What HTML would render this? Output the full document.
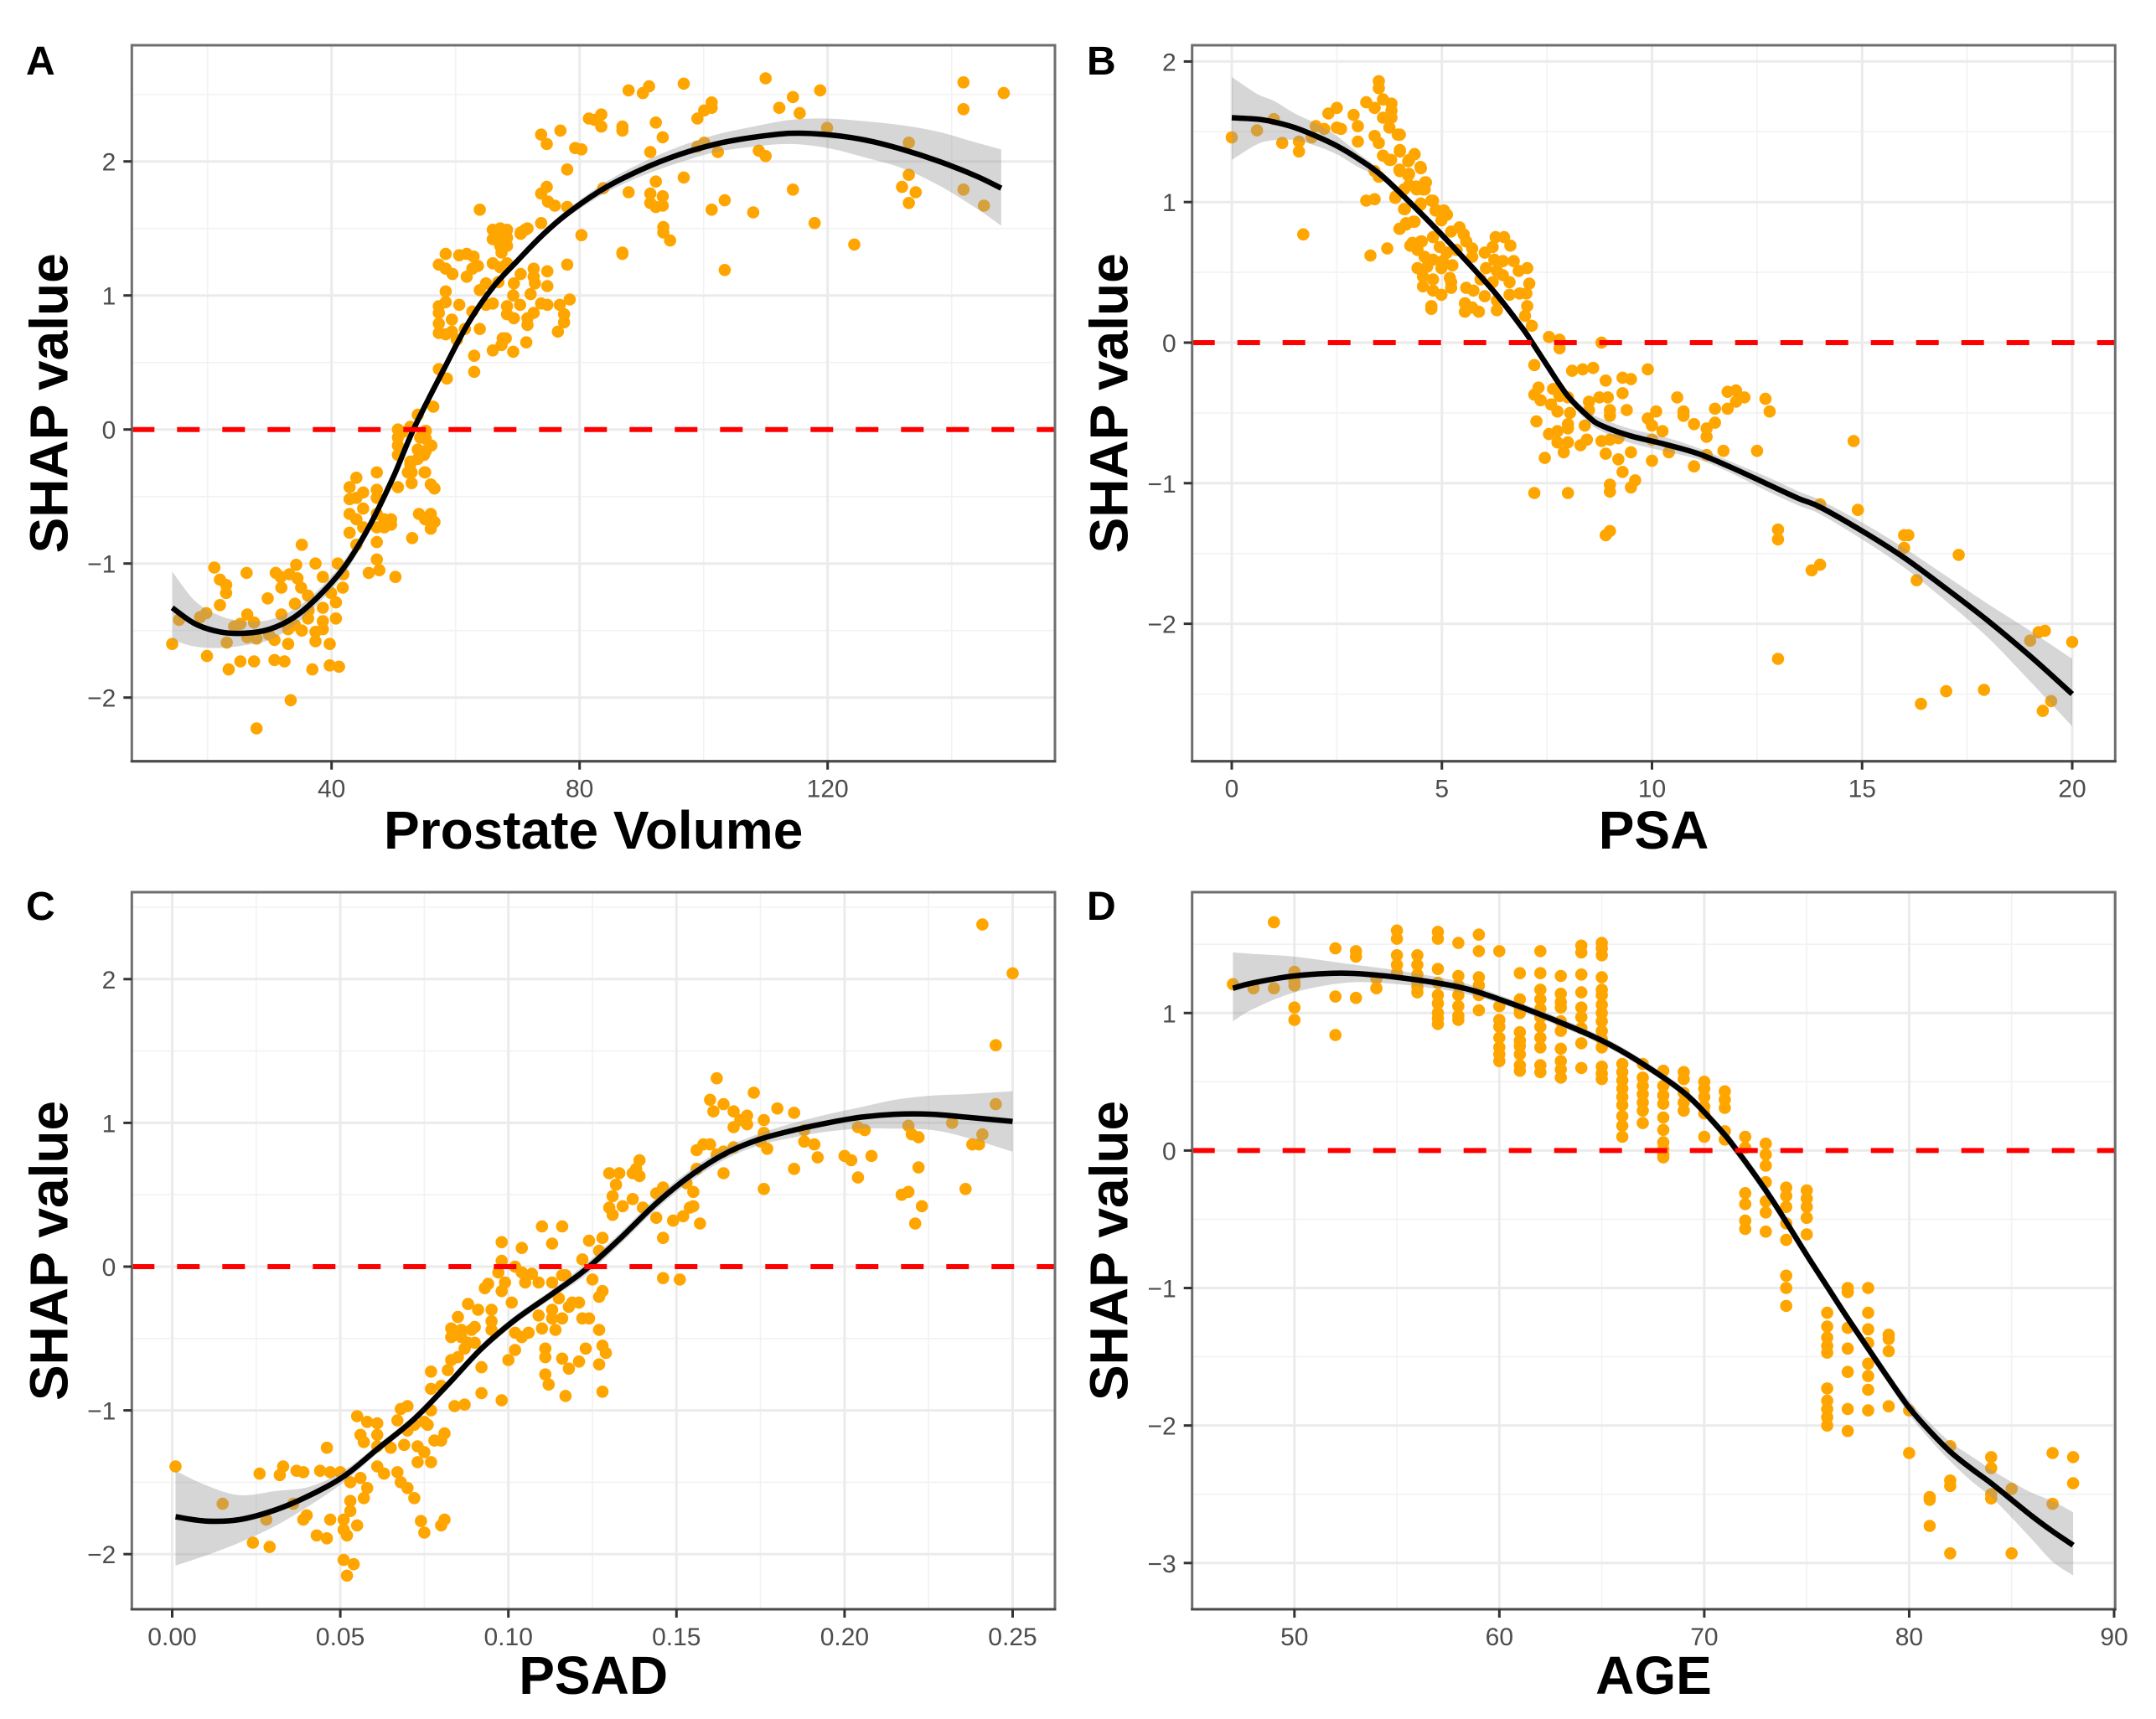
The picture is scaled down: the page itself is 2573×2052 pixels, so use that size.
<!DOCTYPE html>
<html lang="en">
<head>
<meta charset="utf-8">
<title>SHAP dependence plots</title>
<style>
html,body{margin:0;padding:0;background:#fff;}
svg{display:block;}
text{font-family:"Liberation Sans",Arial,sans-serif;}
</style>
</head>
<body>
<svg id="figure" xmlns="http://www.w3.org/2000/svg" width="2573" height="2052" viewBox="0 0 2573 2052"></svg>
<script>
// ---------- Panel A: Prostate Volume ----------
const volumeXTicks=[40,80,120];
const volumeXMinor=[20,60,100,140];
const volumeYTicks=[2,1,0,-1,-2];
const volumeYMinor=[2.5,1.5,0.5,-0.5,-1.5];
const volumeXLabels=['40','80','120'];
const volumeYLabels=['2','1','0','\u22121','\u22122'];
const volumeFitX=[14.3,18,22,26,30,34,38,42,46,50,53.2,58,62,66,70,74,78,84,90,96,102,108,114,120,126,132,138,144,148];
const volumeFitY=[-1.33,-1.45,-1.51,-1.52,-1.49,-1.40,-1.24,-1.03,-.73,-.35,0,.44,.79,1.06,1.26,1.45,1.61,1.80,1.94,2.05,2.13,2.18,2.21,2.20,2.16,2.09,2.0,1.89,1.80];
const volumeFitHigh=[-1.06,-1.28,-1.39,-1.43,-1.42,-1.34,-1.19,-.98,-.69,-.31,.03,.47,.82,1.09,1.29,1.48,1.64,1.84,1.99,2.11,2.2,2.26,2.31,2.32,2.30,2.27,2.22,2.14,2.09];
const volumeFitLow=[-1.57,-1.62,-1.63,-1.61,-1.57,-1.46,-1.29,-1.08,-.77,-.39,-.03,.41,.76,1.03,1.23,1.42,1.58,1.76,1.89,1.99,2.07,2.11,2.13,2.10,2.03,1.95,1.82,1.65,1.52];
const volumePoints=[[148.4,2.51],[141.9,2.59],[141.9,2.39],[141.9,1.79],[145.2,1.67],[133.1,2.14],[133.1,1.90],[134.2,1.77],[132,1.81],[133.1,1.69],[124.3,1.38],[117.9,1.54],[114.4,1.79],[114.4,2.48],[112.2,2.40],[115.5,2.36],[118.8,2.53],[119.9,2.25],[110,2.62],[108.9,2.08],[110,2.04],[108,1.62],[103.4,1.71],[101.3,1.64],[103.4,1.19],[102.3,2.07],[101.3,2.44],[101.3,2.40],[100.1,2.38],[99,2.32],[100.1,2.14],[99,2.11],[96.8,2.58],[96.8,1.88],[93.4,2.18],[92.3,2.29],[91.2,2.56],[90.2,2.51],[87.9,2.53],[91.4,2.07],[92.3,1.85],[91.4,1.76],[91.4,1.69],[93.4,1.74],[92.3,1.66],[93.4,1.67],[87.9,1.77],[93.5,1.51],[93.5,1.47],[94.6,1.41],[86.9,1.31],[86.9,2.26],[86.9,2.23],[83.5,2.35],[83.5,2.26],[81.5,2.32],[82.4,2.31],[79.3,2.10],[80.3,2.09],[76.9,2.23],[73.8,2.20],[74.7,2.13],[78,1.94],[83.8,1.80],[74.7,1.81],[73.8,1.76],[74.9,1.70],[76,1.67],[78,1.66],[80.3,1.45],[73.8,1.54],[63.9,1.64],[78,1.23],[71.6,1.50],[70.5,1.47],
[66.0,1.49],[67.2,1.50],[68.3,1.49],[66.0,1.42],[67.2,1.45],[68.3,1.43],[67.2,1.37],[68.3,1.37],[67.4,1.32],[66,1.24],[67.2,1.21],[68.3,1.24],[70.5,1.46],[71.2,1.49],[86.9,1.32],
[58.4,1.31],[57.3,1.23],[58.4,1.20],[59.5,1.16],[60.6,1.30],[61.8,1.31],[62.9,1.29],[63.6,1.22],[62.7,1.20],[61.8,1.14],[58.4,1.03],[57.3,.92],[58.4,.95],[57.3,.87],[57.3,.79],[57.3,.72],[58.4,.71],[59.4,.82],[60.6,.93],[59.4,.73],[60.2,.67],[62.7,.88],[61.5,.75],[63.9,.75],[64.9,1.09],[63.9,1.04],[66,.94],[64.9,.93],[67.6,.68],[68.1,.68],[66,.59],[67.4,.63],[69.3,.58],[71.4,.65],[63,.55],[63,.43],[57.3,.45],[58.6,.38],[66.9,1.10],[69.4,1.09],[70.5,1.16],[72.6,1.20],[72.6,1.14],[72.8,1.09],[74.8,1.18],[74.8,1.07],[72.1,1.01],[69.3,1.0],[68.3,.92],[70.4,.93],[68.3,.86],[69.4,.83],[71.6,.83],[71.6,.78],[72.6,.87],[73.8,.94],[74.8,.93],[76.8,.93],[78.4,.97],[77.5,.86],[77.5,.80],[76.5,.73],[56.4,.17],[53.9,.11],
[50.7,.0],[50.7,-.06],[50.7,-.12],[50.7,-.19],[51.4,-.02],[52.7,.02],[55.2,-.01],[55.2,-.07],[54.3,-.06],[56.1,-.12],[55.2,-.16],[53.9,-.15],[53.9,-.22],[52.7,-.26],[52.3,-.32],[55,-.32],
[52.7,-.24],[52.9,-.32],[52.9,-.40],[55.1,-.32],[56,-.41],[56.6,-.44],[54.9,-.19],[47.3,-.32],[44,-.36],[42.9,-.43],[42.9,-.52],[44,-.51],[45.1,-.47],[45.1,-.59],[47.3,-.45],[47.3,-.51],[50.7,-.43],[42.9,-.63],[44,-.67],[42.9,-.77],[45.1,-.73],[47.3,-.63],[48.5,-.67],[49.6,-.67],[47.3,-.73],[48.5,-.73],[49.6,-.71],[54.1,-.63],[56,-.63],[56.6,-.69],[55.1,-.67],[56,-.74],[53,-.81],[44,-.86],[47.3,-.84],[47.3,-.97],[46,-1.07],[47.7,-1.05],[50.3,-1.10],
[35.2,-.86],[37.4,-1.0],[34.3,-1.01],[31,-1.07],[31.8,-1.10],[33.2,-1.08],[34.5,-1.11],[26.3,-1.07],[21.1,-1.03],[22,-1.12],[23,-1.16],[23,-1.22],[22,-1.31],[29.7,-1.26],[31.9,-1.18],[35.1,-1.18],[36.2,-1.24],[34.1,-1.30],[38.6,-1.10],[41,-1.0],[41.9,-1.08],[41.8,-1.18],[39.9,-1.22],[40.7,-1.29],[40.7,-1.41],[38.6,-1.33],[36.3,-1.35],[36.2,-1.41],[38.6,-1.43],[37.4,-1.51],[38.6,-1.49],[39.7,-1.60],[37.4,-1.58],[35.2,-1.50],[34.1,-1.46],[31.9,-1.38],[33,-1.49],[33,-1.60],[30.8,-1.57],[30.8,-1.72],[32.4,-1.73],[36.9,-1.79],[39.7,-1.76],[41.2,-1.77],[27.5,-1.73],[25.3,-1.73],[23.4,-1.79],[19.9,-1.69],[23.1,-1.59],[14.3,-1.60],[15.4,-1.42],[18.8,-1.40],[19.8,-1.37],[26.4,-1.38],[24.3,-1.47],[25.3,-1.45],[27.5,-1.44],[26.4,-1.55],[27.9,-1.56],[29.9,-1.53],[33.4,-2.02],[27.9,-2.23]];

// ---------- Panel B: PSA ----------
const psaXTicks=[0,5,10,15,20];
const psaXMinor=[2.5,7.5,12.5,17.5];
const psaYTicks=[2,1,0,-1,-2];
const psaYMinor=[1.5,0.5,-0.5,-1.5,-2.5];
const psaXLabels=['0','5','10','15','20'];
const psaYLabels=['2','1','0','\u22121','\u22122'];
const psaFitX=[0,.6,1,1.5,2,2.5,3,3.6,4.6,5.4,6.25,6.9,7.15,7.5,8,8.5,8.8,9.45,10.27,11.1,11.9,12.7,13.5,14,15,16,17,18,19,20];
const psaFitY=[1.6,1.59,1.57,1.53,1.47,1.40,1.31,1.18,.89,.64,.36,.11,0,-.16,-.38,-.53,-.59,-.66,-.72,-.79,-.89,-1.0,-1.11,-1.17,-1.34,-1.53,-1.75,-1.98,-2.23,-2.5];
const psaFitHigh=[1.89,1.77,1.72,1.63,1.56,1.47,1.35,1.21,.92,.67,.39,.14,.03,-.13,-.35,-.49,-.54,-.61,-.67,-.75,-.85,-.95,-1.06,-1.12,-1.28,-1.46,-1.66,-1.86,-2.05,-2.25];
const psaFitLow=[1.30,1.41,1.44,1.44,1.40,1.34,1.25,1.15,.86,.61,.33,.08,-.03,-.19,-.41,-.57,-.63,-.71,-.77,-.83,-.93,-1.05,-1.16,-1.22,-1.40,-1.60,-1.84,-2.10,-2.41,-2.73];
const psaPoints=[[0,1.46],[.6,1.51],[1,1.59],[1.2,1.42],[1.6,1.43],[1.6,1.36],[1.7,.77],[2,1.54],[1.9,1.46],[2.2,1.52],[2.3,1.63],[2.5,1.67],[2.5,1.53],[2.6,1.52],[2.9,1.62],[3,1.54],[3,1.43],[3.2,1.71],[3.4,1.67],[3.2,1.01],[3.4,1.02],[3.3,.62],[3.7,.67],
[3.5,1.86],[3.5,1.81],[3.6,1.73],[3.8,1.70],[3.8,1.65],[3.6,1.6],[3.8,1.6],[3.75,1.53],[4,1.48],[3.4,1.47],[3.5,1.42],[3.6,1.33],[3.75,1.3],[4,1.36],[4,1.22],[4.2,1.29],[4.35,1.34],[4.5,1.24],[3.4,1.22],[3.5,1.18],[4.2,1.19],[4.6,1.14],[3.9,1.04],[4.1,1.09],[4.4,1.09],[4.55,1.09],[4.1,.95],[4.75,1.01],[4.5,.99],[4.85,.94],[5.05,.94],[4,.81],[4.15,.85],[4.35,.86],[4.3,.71],[4.5,.72],
[3.95,1.48],[4.0,1.37],[4.35,1.34],[4.22,1.30],[4.49,1.25],[3.79,1.30],[3.99,1.23],[4.22,1.20],[4.62,1.14],[4.22,1.12],[4.39,1.11],[4.59,1.09],[3.89,1.03],[4.49,.98],[4.79,1.01],[4.12,.95],[4.89,.94],[5.12,.91],[4.99,.87],[4.32,.86],[4.15,.84],[3.99,.81],[5.42,.82],[5.22,.79],[5.52,.77],[4.79,.75],[5.58,.72],[5.72,.67],[4.25,.69],[4.52,.72],[4.42,.66],[4.59,.61],[4.95,.68],[5.12,.64],[5.35,.66],[5.72,.61],[4.79,.59],[5.02,.58],[5.25,.55],[4.42,.53],[4.65,.54],[4.99,.53],[4.55,.47],[4.79,.45],[5.19,.46],[4.55,.40],[4.79,.37],[4.99,.34],[5.22,.39],[5.22,.43],[4.75,.24],[4.75,.26],[5.58,.39],[5.75,.37],[5.55,.28],[5.55,.22],[5.88,.22],[5.72,.25],[6.02,.64],[6.21,.68],[6.28,.75],[6.48,.75],[6.63,.69],[6.25,.59],[6.45,.58],[6.71,.58],[6.05,.53],[6.31,.51],[6.45,.48],[6.83,.51],[7.03,.53],[5.92,.45],[6.21,.43],[6.61,.43],[7.08,.42],[6.02,.33],[6.31,.30],[6.61,.34],[6.85,.35],[7.01,.35],[6.31,.23],[7.03,.26],[6.98,.19],[7.14,.12],
[7.55,.04],[7.8,.02],[7.8,-.04],[8.8,0],[7.2,-.16],[8.1,-.2],[8.35,-.19],[8.6,-.18],[9.9,-.19],[9.3,-.25],[9.5,-.26],[8.9,-.27],[9.3,-.36],[8.95,-.39],[8.75,-.39],[7.2,-.37],[7.3,-.32],[7.65,-.33],[7.8,-.38],[8,-.39],[8.5,-.42],[7.6,-.44],[7.35,-.41],[7.75,-.49],[8.05,-.5],[8.5,-.48],[9,-.48],[9,-.52],[9.4,-.48],[7.25,-.56],[8,-.58],[8.4,-.59],[7.55,-.65],[7.75,-.63],[8,-.61],[8.8,-.7],[9,-.69],[9.2,-.68],[8,-.71],[7.75,-.71],[8.3,-.73],[8.45,-.69],[7.9,-.78],[7.45,-.82],[8.9,-.79],[9.5,-.78],[9.2,-.83],[9.3,-.92],[9.6,-.98],[9.5,-1.03],[9,-1.01],[9,-1.06],[8,-1.07],[7.2,-1.07],[8.9,-1.37],[9,-1.34],
[10.6,-.39],[10.1,-.49],[9.9,-.54],[10,-.59],[10.25,-.63],[10.75,-.49],[10.75,-.52],[11,-.58],[11.3,-.61],[11.3,-.67],[11.5,-.57],[11.5,-.47],[11.8,-.35],[12,-.34],[12.2,-.39],[12,-.42],[11.8,-.47],[12.7,-.4],[12.8,-.49],[12.5,-.77],[11.7,-.77],[11.3,-.8],[11,-.88],[10.4,-.78],[10,-.84],[10,-.69],
[14.8,-.7],[14,-1.15],[14.9,-1.19],[13,-1.33],[13,-1.40],[13,-2.25],[14,-1.58],[13.8,-1.62],[16,-1.37],[16.1,-1.37],[16,-1.46],[17.3,-1.51],[16.3,-1.69],[19,-2.12],[19.2,-2.06],[19.35,-2.05],[20,-2.13],[16.4,-2.57],[17,-2.48],[17.9,-2.47],[19.5,-2.55],[19.3,-2.62]];

// ---------- Panel C: PSAD ----------
const psadXTicks=[0,.05,.10,.15,.20,.25];
const psadXMinor=[.025,.075,.125,.175,.225];
const psadYTicks=[2,1,0,-1,-2];
const psadYMinor=[2.5,1.5,0.5,-0.5,-1.5];
const psadXLabels=['0.00','0.05','0.10','0.15','0.20','0.25'];
const psadYLabels=['2','1','0','\u22121','\u22122'];
const psadFitX=[.001,.01,.02,.031,.041,.051,.061,.072,.082,.092,.102,.113,.123,.133,.144,.154,.164,.174,.185,.195,.205,.215,.226,.236,.25];
const psadFitY=[-1.74,-1.77,-1.76,-1.69,-1.59,-1.46,-1.27,-1.06,-.82,-.57,-.37,-.19,-.02,.19,.44,.63,.78,.88,.95,1.0,1.04,1.06,1.06,1.04,1.01];
const psadFitHigh=[-1.42,-1.52,-1.59,-1.56,-1.53,-1.42,-1.24,-1.03,-.79,-.54,-.34,-.16,.02,.23,.48,.67,.82,.92,1.0,1.06,1.11,1.16,1.19,1.20,1.22];
const psadFitLow=[-2.08,-2.01,-1.92,-1.80,-1.66,-1.50,-1.30,-1.09,-.85,-.60,-.40,-.22,-.06,.15,.40,.59,.74,.84,.90,.94,.96,.96,.95,.90,.80];
const psadPoints=[[.001,-1.39],[.015,-1.65],[.026,-1.44],[.024,-1.92],[.029,-1.95],[.028,-1.76],[.033,-1.39],[.032,-1.45],[.037,-1.42],[.039,-1.43],[.036,-1.65],[.039,-1.76],[.040,-1.73],[.046,-1.26],[.044,-1.42],[.047,-1.43],[.050,-1.43],[.047,-1.76],[.043,-1.87],[.046,-1.89],[.051,-1.76],[.051,-1.83],[.052,-1.87],[.053,-1.63],[.053,-1.70],[.055,-1.80],[.051,-2.04],[.054,-2.07],[.052,-2.15],[.055,-1.04],[.056,-1.17],[.057,-1.22],[.058,-1.08],[.061,-1.09],[.061,-1.17],[.061,-1.25],[.056,-1.47],[.053,-1.50],[.058,-1.54],[.057,-1.61],[.061,-1.39],[.063,-1.44],[.065,-1.26],[.067,-1.07],[.068,-.99],[.070,-.97],[.070,-1.14],[.072,-1.10],[.069,-1.24],[.067,-1.43],[.068,-1.50],[.070,-1.54],[.073,-1.36],[.073,-1.25],[.075,-1.29],[.077,-1.36],[.072,-1.61],[.074,-1.77],[.075,-1.85],[.080,-1.80],[.081,-1.76],[.076,-1.10],[.075,-1.08],[.077,-1.0],[.078,-1.21],[.081,-1.16],[.080,-1.21],[.077,-.85],[.080,-.83],[.077,-.73],[.084,-.97],[.087,-.96],[.082,-.72],[.083,-.65],[.085,-.63],[.083,-.49],[.083,-.43],[.085,-.35],[.086,-.49],[.086,-.44],[.088,-.53],[.089,-.44],[.090,-.53],[.088,-.26],[.091,-.30],[.090,-.42],[.087,-.57],[.092,-.70],[.092,-.88],[.098,-.93],[.093,-.15],[.094,-.12],[.095,-.30],[.095,-.38],[.095,-.44],[.100,-.65],[.102,-.58],[.097,-.04],[.098,.04],[.098,.17],[.099,-.11],[.098,-.17],[.101,-.25],[.102,0],[.104,-.04],[.104,.13],[.107,-.05],[.105,-.11],[.109,-.11],[.110,.28],[.113,.16],[.116,.28],[.113,-.11],[.116,-.06],[.117,-.06],[.115,-.22],[.109,-.34],[.110,-.43],[.113,-.30],[.113,-.36],[.116,-.36],[.114,-.44],[.106,-.46],[.102,-.46],[.104,-.49],[.111,-.57],[.111,-.63],[.116,-.64],[.121,-.66],[.118,-.71],[.123,-.57],[.111,-.75],[.112,-.82],[.117,-.90],[.119,-.25],[.121,-.25],[.122,-.36],[.124,-.36],[.118,-.28],[.122,.05],[.124,.18],[.125,-.09],[.127,.11],[.128,.20],[.127,-.21],[.128,-.17],[.127,-.44],[.128,-.55],[.129,-.60],[.127,-.68],[.128,-.87],
[.130,.65],[.133,.65],[.132,.57],[.131,.49],[.130,.41],[.131,.36],[.134,.42],[.137,.47],[.137,.65],[.139,.74],[.138,.68],[.139,.63],[.140,.41],[.144,.51],[.146,.55],[.144,.34],[.146,.20],[.146,-.08],[.151,-.09],[.149,.32],[.152,.35],[.154,.41],[.155,.42],[.157,.30],[.155,.52],[.153,.58],[.156,.68],[.156,.81],[.158,.85],[.160,.85],[.162,.78],[.164,.80],[.167,.83],[.164,.65],[.162,1.31],[.160,1.16],[.161,1.08],[.164,1.13],[.167,1.08],[.167,.97],[.169,1.02],[.171,1.05],[.171,.99],[.173,1.21],[.176,1.02],[.176,.93],[.175,.87],[.177,.82],[.180,1.10],[.185,1.07],[.176,.54],[.185,.68],[.188,.87],[.188,.95],[.191,.85],[.192,.76],[.200,.77],[.202,.74],[.204,.97],[.206,.95],[.204,.62],[.208,.77],[.219,.98],[.220,.92],[.222,.90],[.222,.69],[.217,.50],[.219,.52],[.223,.42],[.221,.30],[.232,1.0],[.236,.54],[.238,.85],[.240,.85],[.241,.92],[.245,1.13],[.245,1.54],[.241,2.38],[.250,2.04]];

// ---------- Panel D: AGE ----------
const ageXTicks=[50,60,70,80,90];
const ageXMinor=[55,65,75,85];
const ageYTicks=[1,0,-1,-2,-3];
const ageYMinor=[1.5,0.5,-0.5,-1.5,-2.5];
const ageXLabels=['50','60','70','80','90'];
const ageYLabels=['1','0','\u22121','\u22122','\u22123'];
const ageFitX=[47,48,50,52.5,55,58,60,62.5,65,67,69.1,70.7,71.6,73,74,75,76,77,78,79,80,81,82,83,84,85,86,87,88];
const ageFitY=[1.18,1.22,1.27,1.29,1.26,1.19,1.10,.96,.80,.63,.41,.165,0,-.29,-.52,-.76,-.99,-1.22,-1.44,-1.66,-1.87,-2.04,-2.19,-2.31,-2.42,-2.54,-2.66,-2.77,-2.87];
const ageFitHigh=[1.44,1.43,1.41,1.36,1.31,1.23,1.13,.99,.83,.66,.44,.20,.04,-.25,-.48,-.72,-.95,-1.18,-1.40,-1.62,-1.82,-1.98,-2.12,-2.22,-2.32,-2.41,-2.49,-2.55,-2.63];
const ageFitLow=[.94,1.03,1.15,1.22,1.21,1.15,1.07,.93,.77,.60,.38,.13,-.04,-.33,-.56,-.80,-1.03,-1.26,-1.48,-1.70,-1.92,-2.10,-2.26,-2.40,-2.52,-2.67,-2.83,-2.99,-3.09];
const agePoints=[[47,1.21],[48,1.18],[49,1.66],[49,1.18],[50,1.3],[50,1.2],[50,1.23],[50,1.04],[50,.95],[52,1.47],[52,1.12],[52,.84],[53,1.45],[53,1.41],[53,1.11],[54,1.18],[54,1.25],
[55,1.6],[55,1.54],[55,1.42],[55,1.35],[55,1.29],[56,1.42],[56,1.35],[56,1.28],[56,1.22],[56,1.15],[56,1.19],
[57,1.59],[57,1.54],[57,1.32],[57,1.22],[57,1.13],[57,1.07],[57,1.0],[57,.92],[57,.96],[58,1.51],[58,1.27],[58,1.2],[58,1.13],[58,1.05],[58,.98],[58,.95],
[59,1.57],[59,1.45],[59,1.26],[59,1.2],[59,1.13],[59,1.02],[60,1.45],[60,1.05],[60,.95],[60,.9],[60,.82],[60,.75],[60,.7],[60,.65],
[61,1.29],[61,1.1],[61,1.03],[61,1.0],[61,.86],[61,.8],[61,.76],[61,.7],[61,.62],[61,.58],[62,1.45],[62,1.29],[62,1.17],[62,1.1],[62,1.03],[62,.97],[62,.9],[62,.82],[62,.75],[62,.62],[62,.57],
[63,1.27],[63,1.14],[63,1.08],[63,1.04],[63,.94],[63,.87],[63,.74],[63,.65],[63,.59],[63,.53],[64,1.49],[64,1.44],[64,1.28],[64,1.15],[64,1.04],[64,.97],[64,.89],[64,.78],[64,.60],
[65,1.51],[65,1.47],[65,1.42],[65,1.26],[65,1.17],[65,1.13],[65,1.06],[65,1.0],[65,.94],[65,.87],[65,.81],[65,.75],[65,.61],[65,.56],[65,.52],
[66,.63],[66,.57],[66,.51],[66,.45],[66,.39],[66,.33],[66,.25],[66,.18],[66,.10],[67,.63],[67,.53],[67,.47],[67,.41],[67,.35],[67,.29],[67,.20],
[68,.58],[68,.47],[68,.40],[68,.34],[68,.24],[68,.15],[68,.06],[68,.01],[68,-.03],[68,-.05],[69,.57],[69,.52],[69,.42],[69,.35],[69,.29],
[70,.50],[70,.45],[70,.39],[70,.32],[70,.27],[70,.10],[71,.43],[71,.37],[71,.31],[71,.14],[71,.08],[72,.10],[72,.02],[72,-.31],[72,-.39],[72,-.51],[72,-.57],
[73,.05],[73,-.03],[73,-.11],[73,-.23],[73,-.37],[73,-.45],[73,-.59],[74,-.27],[74,-.33],[74,-.41],[74,-.53],[74,-.65],[74,-.91],[74,-1.0],[74,-1.13],
[75,-.29],[75,-.35],[75,-.41],[75,-.49],[75,-.61],[76,-1.18],[76,-1.28],[76,-1.36],[76,-1.42],[76,-1.47],[76,-1.73],[76,-1.82],[76,-1.88],[76,-1.94],[76,-2.0],
[77,-1.0],[77,-1.03],[77,-1.29],[77,-1.44],[77,-1.61],[77,-1.88],[77,-2.04],[78,-1.0],[78,-1.18],[78,-1.3],[78,-1.4],[78,-1.55],[78,-1.64],[78,-1.74],[78,-1.89],
[79,-1.34],[79,-1.37],[79,-1.46],[79,-1.86],[80,-1.89],[80,-2.2],[81,-2.52],[81,-2.54],[81,-2.73],[82,-2.15],[82,-2.4],[82,-2.44],[82,-2.93],
[84,-2.23],[84,-2.31],[84,-2.5],[84,-2.53],[85,-2.46],[85,-2.93],[87,-2.2],[87,-2.57],[88,-2.23],[88,-2.42]];

// ---------- Layout (pixels) ----------
const panelLayouts={
  a:{left:157.3,right:1259,top:54,bottom:908.7,xRef:[40,395.7,120,987.7],yRef:[0,512.7,-2,832.7],tagX:31,tagY:89,titleX:80.5,xTitleY:1013},
  b:{left:1422.7,right:2524.3,top:54,bottom:908.7,xRef:[0,1470,20,2473],yRef:[0,409,2,73.4],tagX:1297,tagY:89,titleX:1345.5,xTitleY:1013},
  c:{left:157.3,right:1259,top:1065,bottom:1921,xRef:[0,205.5,.25,1208.5],yRef:[0,1512,2,1168.8],tagX:31,tagY:1098,titleX:80.5,xTitleY:2022},
  d:{left:1422.7,right:2524.3,top:1065,bottom:1921,xRef:[50,1544.8,90,2523],yRef:[0,1373.4,-3,1865.8],tagX:1297,tagY:1098,titleX:1345.5,xTitleY:2022}
};

const NS='http://www.w3.org/2000/svg';
const figure=document.getElementById('figure');

function linearScale(ref){
  const k=(ref[3]-ref[1])/(ref[2]-ref[0]);
  return v=>ref[1]+(v-ref[0])*k;
}
function smoothPath(pts,move){
  let d=(move?'M':'L')+pts[0][0].toFixed(1)+' '+pts[0][1].toFixed(1);
  for(let i=0;i<pts.length-1;i++){
    const p0=pts[Math.max(i-1,0)],p1=pts[i],p2=pts[i+1],p3=pts[Math.min(i+2,pts.length-1)];
    const c1x=p1[0]+(p2[0]-p0[0])/6,c1y=p1[1]+(p2[1]-p0[1])/6;
    const c2x=p2[0]-(p3[0]-p1[0])/6,c2y=p2[1]-(p3[1]-p1[1])/6;
    d+='C'+c1x.toFixed(1)+' '+c1y.toFixed(1)+' '+c2x.toFixed(1)+' '+c2y.toFixed(1)+' '+p2[0].toFixed(1)+' '+p2[1].toFixed(1);
  }
  return d;
}
function makeLine(parent,x1,y1,x2,y2,stroke,width){
  const el=document.createElementNS(NS,'line');
  el.setAttribute('x1',x1);el.setAttribute('y1',y1);el.setAttribute('x2',x2);el.setAttribute('y2',y2);
  el.setAttribute('stroke',stroke);el.setAttribute('stroke-width',width);
  parent.appendChild(el);
  return el;
}
function makeText(parent,x,y,str,size,weight,fill,anchor){
  const el=document.createElementNS(NS,'text');
  el.setAttribute('x',x);el.setAttribute('y',y);
  el.setAttribute('font-size',size);el.setAttribute('font-weight',weight);
  el.setAttribute('fill',fill);el.setAttribute('text-anchor',anchor);
  el.textContent=str;
  parent.appendChild(el);
  return el;
}

function drawPanel(key,tag,xTitle,L,xTicks,xMinor,xLabels,yTicks,yMinor,yLabels,points,fitX,fitY,fitHigh,fitLow){
  const xs=linearScale(L.xRef),ys=linearScale(L.yRef);
  const g=document.createElementNS(NS,'g');
  
  
  figure.appendChild(g);

  const bg=document.createElementNS(NS,'rect');
  bg.setAttribute('x',L.left);bg.setAttribute('y',L.top);
  bg.setAttribute('width',L.right-L.left);bg.setAttribute('height',L.bottom-L.top);
  bg.setAttribute('fill','#ffffff');
  
  
  g.appendChild(bg);

  // minor then major grid
  xMinor.forEach(v=>{
    const l=makeLine(g,xs(v),L.top,xs(v),L.bottom,'#f2f2f2',1.6);
    
    
  });
  yMinor.forEach(v=>{
    const l=makeLine(g,L.left,ys(v),L.right,ys(v),'#f2f2f2',1.6);
    
    
  });
  xTicks.forEach(v=>{
    const l=makeLine(g,xs(v),L.top,xs(v),L.bottom,'#ebebeb',3);
    
    
  });
  yTicks.forEach(v=>{
    const l=makeLine(g,L.left,ys(v),L.right,ys(v),'#ebebeb',3);
    
    
  });

  // data points
  points.forEach(p=>{
    const c=document.createElementNS(NS,'circle');
    c.setAttribute('cx',xs(p[0]).toFixed(1));
    c.setAttribute('cy',ys(p[1]).toFixed(1));
    c.setAttribute('r',7.3);
    c.setAttribute('fill','#ffa500');
    
    
    g.appendChild(c);
  });

  // confidence ribbon
  const upper=fitX.map((x,i)=>[xs(x),ys(fitHigh[i])]);
  const lower=fitX.map((x,i)=>[xs(x),ys(fitLow[i])]).reverse();
  const ribbon=document.createElementNS(NS,'path');
  ribbon.setAttribute('d',smoothPath(upper,true)+smoothPath(lower,false)+'Z');
  ribbon.setAttribute('fill','#999999');
  ribbon.setAttribute('fill-opacity','0.4');
  
  
  g.appendChild(ribbon);

  // fitted curve
  const curve=document.createElementNS(NS,'path');
  curve.setAttribute('d',smoothPath(fitX.map((x,i)=>[xs(x),ys(fitY[i])]),true));
  curve.setAttribute('fill','none');
  curve.setAttribute('stroke','#000000');
  curve.setAttribute('stroke-width','6.5');
  
  
  g.appendChild(curve);

  // zero reference line
  const zero=makeLine(g,L.left,ys(0),L.right,ys(0),'#ff0000',6);
  zero.setAttribute('stroke-dasharray','27 27');
  
  

  // border
  const border=document.createElementNS(NS,'rect');
  border.setAttribute('x',L.left);border.setAttribute('y',L.top);
  border.setAttribute('width',L.right-L.left);border.setAttribute('height',L.bottom-L.top);
  border.setAttribute('fill','none');border.setAttribute('stroke','#6e6e6e');border.setAttribute('stroke-width','3');
  
  
  g.appendChild(border);
  const bottomEdge=makeLine(g,L.left-1.5,L.bottom,L.right+1.5,L.bottom,'#4a4a4a',3);
  
  

  // ticks and tick labels
  xTicks.forEach((v,i)=>{
    const t=makeLine(g,xs(v),L.bottom,xs(v),L.bottom+10,'#333333',3);
    
    
    const lab=makeText(g,xs(v),L.bottom+43,xLabels[i],30,'normal','#4d4d4d','middle');
    
    
  });
  yTicks.forEach((v,i)=>{
    const t=makeLine(g,L.left-10,ys(v),L.left,ys(v),'#333333',3);
    
    
    const lab=makeText(g,L.left-19,ys(v)+11,yLabels[i],30,'normal','#4d4d4d','end');
    
    
  });

  // titles and tag
  const xt=makeText(g,(L.left+L.right)/2,L.xTitleY,xTitle,64,'bold','#000000','middle');
  
  
  const yt=makeText(g,0,0,'SHAP value',64,'bold','#000000','middle');
  yt.setAttribute('transform','translate('+L.titleX+' '+((L.top+L.bottom)/2)+') rotate(-90)');
  
  
  const tg=makeText(g,L.tagX,L.tagY,tag,48,'bold','#000000','start');
  
  
}

drawPanel('a','A','Prostate Volume',panelLayouts.a,volumeXTicks,volumeXMinor,volumeXLabels,volumeYTicks,volumeYMinor,volumeYLabels,volumePoints,volumeFitX,volumeFitY,volumeFitHigh,volumeFitLow);
drawPanel('b','B','PSA',panelLayouts.b,psaXTicks,psaXMinor,psaXLabels,psaYTicks,psaYMinor,psaYLabels,psaPoints,psaFitX,psaFitY,psaFitHigh,psaFitLow);
drawPanel('c','C','PSAD',panelLayouts.c,psadXTicks,psadXMinor,psadXLabels,psadYTicks,psadYMinor,psadYLabels,psadPoints,psadFitX,psadFitY,psadFitHigh,psadFitLow);
drawPanel('d','D','AGE',panelLayouts.d,ageXTicks,ageXMinor,ageXLabels,ageYTicks,ageYMinor,ageYLabels,agePoints,ageFitX,ageFitY,ageFitHigh,ageFitLow);
</script>
</body>
</html>
